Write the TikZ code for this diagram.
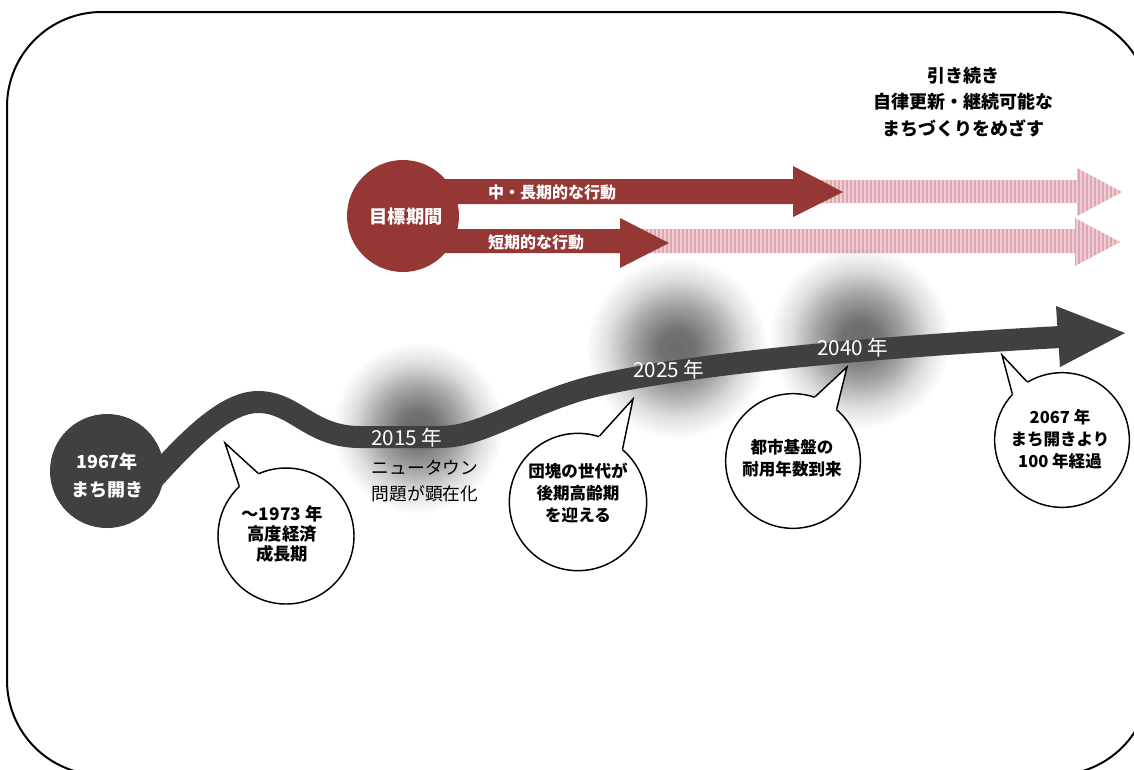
\documentclass[tikz,border=0pt]{standalone}
\usepackage{fontspec}
\setmainfont{Noto Sans CJK JP}
\usetikzlibrary{calc,fadings}
\definecolor{roadc}{RGB}{64,64,64}
\definecolor{redc}{RGB}{149,55,53}
\definecolor{pinkc}{RGB}{222,166,176}
\newcommand{\fsz}[2]{\fontsize{#1pt}{#2pt}\selectfont}
\pgfdeclareradialshading{blobshade}{\pgfpointorigin}{color(0bp)=(white); color(5bp)=(white!95!black); color(12bp)=(white!62!black); color(19bp)=(white!22!black); color(25bp)=(black); color(50bp)=(black)}
\pgfdeclarefading{blobfade}{\pgfuseshading{blobshade}}
\tikzset{
  bubble/.style={circle, draw=black, fill=white, line width=1.1pt, inner sep=0pt},
  tailline/.style={line width=1.1pt, line join=miter},
  blob/.style={black, fill opacity=0.58, path fading=blobfade},
  wlabel/.style={white, font=\fsz{15.5}{18}},
  btext/.style={black, align=center, font=\fsz{12.4}{16.5}\bfseries},
}
\begin{document}
\begin{tikzpicture}[x=0.75pt,y=-0.75pt]
\useasboundingbox (0,0) rectangle (1134,769);
\clip (0,0) rectangle (1134,769);
\fill[white] (0,0) rectangle (1134,769);
% frame
\draw[line width=1.5pt, rounded corners=71pt] (7,12) rectangle (1150,775);

% top text
\node[align=center, font=\fsz{13.5}{19.8}\bfseries] (goaltext) at (963,102) {引き続き\\自律更新・継続可能な\\まちづくりをめざす};

% pink striped arrows
\begin{scope}
 \clip (800,180) -- (1077,180) -- (1077,168) -- (1122,192) -- (1077,216) -- (1077,203) -- (800,203) -- cycle
       (590,229) -- (1075,229) -- (1075,218) -- (1120,242) -- (1075,266) -- (1075,253) -- (590,253) -- cycle;
 \fill[pinkc] (580,160) rectangle (1130,275);
 \foreach \x in {581,585,...,1129} \draw[white, opacity=0.45, line width=0.8pt] (\x,160) -- (\x,275);
\end{scope}

% red arrows
\fill[redc] (430,179) -- (793,179) -- (793,166) -- (843,192) -- (793,217) -- (793,204) -- (430,204) -- cycle;
\fill[redc] (430,229) -- (620,229) -- (620,218) -- (669,243) -- (620,268) -- (620,253) -- (430,253) -- cycle;
\node[circle, fill=redc, minimum size=84pt, inner sep=0pt] (goal) at (403,216) {};
\node[white, font=\fsz{13.7}{16}\bfseries] (goallbl) at (406,217) {目標期間};
\node[white, font=\fsz{12}{14}\bfseries] (midlbl) at (552,192) {中・長期的な行動};
\node[white, font=\fsz{12}{14}\bfseries] (shortlbl) at (536,242) {短期的な行動};

% blobs
\fill[blob] (418,428) circle[radius=64pt];
\fill[blob] (677,348) circle[radius=68pt];
\fill[blob] (860,338) circle[radius=68pt];

% road
\draw[roadc, line width=16.5pt] (120,515) .. controls (165,468) and (215,402) .. (258,402)
  .. controls (295,402) and (310,437) .. (360,437) -- (440,437)
  .. controls (480,437) and (520,408) .. (580,390)
  .. controls (650,370) and (820,350) .. (1060,337);
\fill[roadc] (1056,306) -- (1125,333) -- (1060,367) -- cycle;

\node[circle, fill=roadc, minimum size=85.5pt, inner sep=0pt] (start) at (107,471) {};
\node[white, align=center, font=\fsz{13.5}{21}\bfseries] (startlbl) at (107,476) {1967年\\まち開き};

\node[wlabel] (y2015) at (407,438) {2015 年};
\node[wlabel] (y2025) at (669,370) {2025 年};
\node[wlabel] (y2040) at (853,348) {2040 年};
\node[align=center, font=\fsz{13.3}{20}] (nt) at (425,481) {ニュータウン\\問題が顕在化};

% bubble 1
\node[bubble, minimum size=102pt] (b1) at (286,536) {};
\coordinate (t1) at (225,443);
\fill[white] ($(b1.center)!0.85!(b1.133)$) -- (b1.133) -- (t1) -- (b1.114) -- ($(b1.center)!0.85!(b1.114)$) -- cycle;
\draw[tailline] (b1.133) -- (t1) -- (b1.114);
\node[btext, font=\fsz{13}{15}\bfseries] (b1t) at (282,534) {〜1973 年\\高度経済\\成長期};

% bubble 2
\node[bubble, minimum size=103pt] (b2) at (578,502) {};
\coordinate (t2) at (633,399);
\fill[white] ($(b2.center)!0.85!(b2.72)$) -- (b2.72) -- (t2) -- (b2.50) -- ($(b2.center)!0.85!(b2.50)$) -- cycle;
\draw[tailline] (b2.72) -- (t2) -- (b2.50);
\node[btext] (b2t) at (578,493) {団塊の世代が\\後期高齢期\\を迎える};

% bubble 3
\node[bubble, minimum size=101pt] (b3) at (793,461) {};
\coordinate (t3) at (847,367);
\fill[white] ($(b3.center)!0.85!(b3.71)$) -- (b3.71) -- (t3) -- (b3.50) -- ($(b3.center)!0.85!(b3.50)$) -- cycle;
\draw[tailline] (b3.71) -- (t3) -- (b3.50);
\node[btext] (b3t) at (792,458) {都市基盤の\\耐用年数到来};

% bubble 4
\node[bubble, minimum size=101pt] (b4) at (1062,440) {};
\coordinate (t4) at (1002,355);
\fill[white] ($(b4.center)!0.85!(b4.137)$) -- (b4.137) -- (t4) -- (b4.121) -- ($(b4.center)!0.85!(b4.121)$) -- cycle;
\draw[tailline] (b4.137) -- (t4) -- (b4.121);
\node[btext] (b4t) at (1060,439) {2067 年\\まち開きより\\100 年経過};
\end{tikzpicture}
\end{document}
